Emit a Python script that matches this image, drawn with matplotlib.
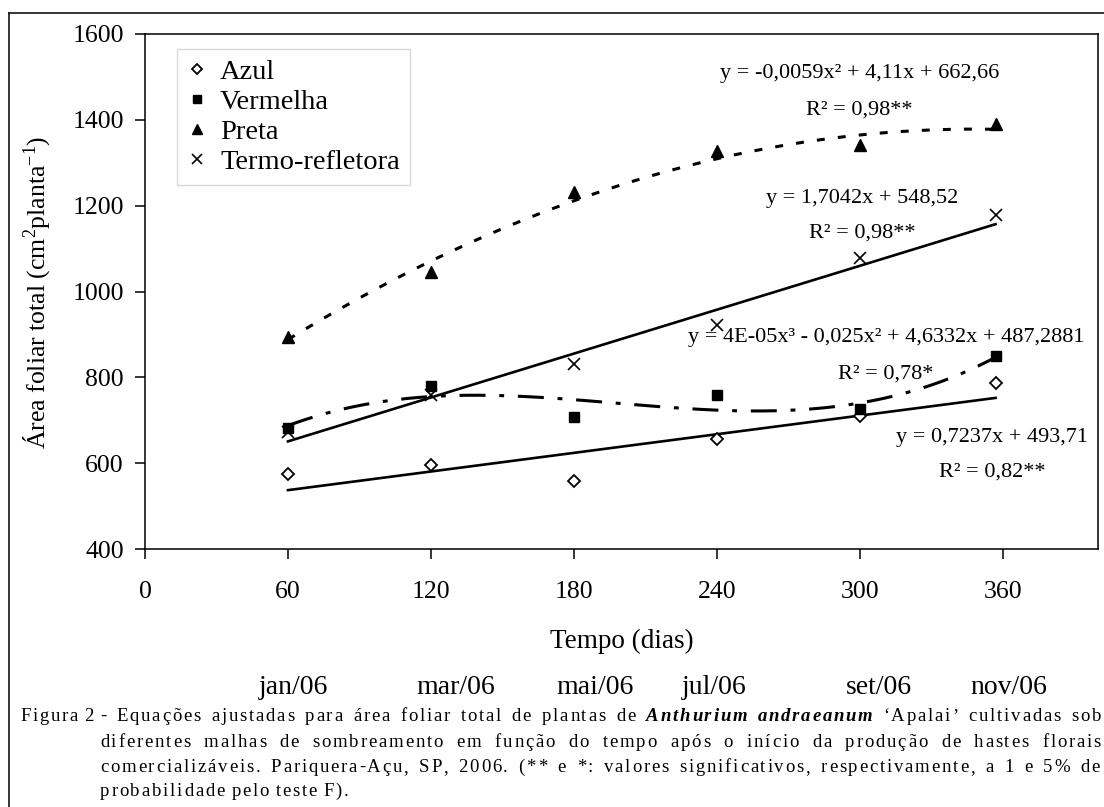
import numpy as np
import matplotlib
matplotlib.use('Agg')
import matplotlib.pyplot as plt
from matplotlib.lines import Line2D
from matplotlib.font_manager import FontProperties

plt.rcParams['font.family'] = ['Liberation Serif', 'DejaVu Serif']
plt.rcParams['mathtext.fontset'] = 'custom'
plt.rcParams['mathtext.rm'] = 'Liberation Serif'
plt.rcParams['mathtext.it'] = 'Liberation Serif:italic'

# dias apos o inicio da producao de hastes florais
dias = [60, 120, 180, 240, 300, 357]
azul = [574, 595, 558, 656, 709, 786]
vermelha = [682, 779, 707, 758, 726, 849]
preta = [893, 1045, 1233, 1328, 1342, 1390]
termo = [672, 760, 830, 922, 1079, 1179]

meses = ['jan/06', 'mar/06', 'mai/06', 'jul/06', 'set/06', 'nov/06']
yticks = [400, 600, 800, 1000, 1200, 1400, 1600]
xticks = [0, 60, 120, 180, 240, 300, 360]

# equacoes ajustadas (como impressas na figura)
azul_coef = [0.7237, 493.71]
termo_coef = [1.7042, 548.52]
preta_coef = [-0.0059, 4.11, 662.66]
vermelha_coef = np.polyfit(dias, vermelha, 3)

W, H = 1104, 807
fig = plt.figure(figsize=(W / 100, H / 100), dpi=100)
ax = fig.add_axes([145 / W, 1 - 549 / H, (1098 - 145) / W, (549 - 34) / H])

xs = np.linspace(dias[0], dias[-1], 300)
ax.plot(xs, np.polyval(preta_coef, xs), color='black', lw=2.2,
        linestyle=(0, (2.6, 4.3)), dash_capstyle='butt')
ax.plot(xs, np.polyval(termo_coef, xs), color='black', lw=1.9)
ax.plot(xs, np.polyval(vermelha_coef, xs), color='black', lw=2.2,
        linestyle=(0, (8.5, 4.5, 1.6, 4.5)), dash_capstyle='butt')
ax.plot(xs, np.polyval(azul_coef, xs), color='black', lw=1.9)

ax.plot(dias, azul, 'D', ms=6.5, mfc='white', mec='black', mew=1.3, ls='none', label='Azul')
ax.plot(dias, vermelha, 's', ms=7.5, color='black', ls='none', label='Vermelha')
ax.plot(dias, preta, '^', ms=9, color='black', ls='none', label='Preta')
ax.plot(dias, termo, 'x', ms=9, mew=1.2, color='black', ls='none', label='Termo-refletora')

ax.set_xlim(0, 400)
ax.set_ylim(400, 1600)
ax.set_xticks(xticks)
ax.set_yticks(yticks)
for s in ax.spines.values():
    s.set_linewidth(1.1)
ax.tick_params(labelsize=18.5, length=7.2, width=1.1, direction='out')
ax.tick_params(axis='y', pad=8)
ax.tick_params(axis='x', pad=16)

leg = ax.legend(loc='upper left', bbox_to_anchor=(0.034, 0.971), fontsize=20.5,
                frameon=True, fancybox=False, edgecolor='#d0d0d0',
                handlelength=0.7, handletextpad=0.45, labelspacing=0.15,
                borderpad=0.35, markerscale=0.85, borderaxespad=0)
leg.get_frame().set_linewidth(1.0)

eq_fs = 16
ax.text(300, 1509, 'y = -0,0059x² + 4,11x + 662,66', fontsize=eq_fs, ha='center', va='center')
ax.text(300, 1423, 'R² = 0,98**', fontsize=eq_fs, ha='center', va='center')
ax.text(301, 1216, 'y = 1,7042x + 548,52', fontsize=eq_fs, ha='center', va='center')
ax.text(301, 1137, 'R² = 0,98**', fontsize=eq_fs, ha='center', va='center')
ax.text(311, 893, 'y = 4E-05x³ - 0,025x² + 4,6332x + 487,2881', fontsize=eq_fs, ha='center', va='center')
ax.text(311, 807, 'R² = 0,78*', fontsize=eq_fs, ha='center', va='center')
ax.text(355.5, 660, 'y = 0,7237x + 493,71', fontsize=eq_fs, ha='center', va='center')
ax.text(355.5, 579, 'R² = 0,82**', fontsize=eq_fs, ha='center', va='center')

fig.text(37 / W, 1 - 292 / H, r'Área foliar total (cm$^{2}$planta$^{-1}$)', fontsize=18.5,
         rotation=90, ha='center', va='center')
fig.text(622 / W, 1 - 641 / H, 'Tempo (dias)', fontsize=19.5, ha='center', va='center')

mes_px = [293, 456, 595, 714, 879, 1009]
for m, px in zip(meses, mes_px):
    fig.text(px / W, 1 - 687 / H, m, fontsize=20, ha='center', va='center')

# moldura externa
fig.add_artist(Line2D([9 / W, 1.0], [1 - 13 / H, 1 - 13 / H], transform=fig.transFigure,
                      color='black', lw=1.1))
fig.add_artist(Line2D([9 / W, 9 / W], [1 - 13 / H, 0], transform=fig.transFigure,
                      color='black', lw=1.1))

# legenda da figura (texto justificado, com espacamento entre letras)
renderer = fig.canvas.get_renderer()
cap_fs = 13.5
track = 1.8


def fprops(bi):
    if bi:
        return FontProperties(family='Liberation Serif', size=cap_fs, weight='bold', style='italic')
    return FontProperties(family='Liberation Serif', size=cap_fs)


def word_width(w, bi):
    fp = fprops(bi)
    ws = [renderer.get_text_width_height_descent(c, fp, ismath=False)[0] for c in w]
    return sum(ws) + track * (len(w) - 1), ws


def draw_words(words, x0, base, x1=None):
    widths = [word_width(w, bi) for w, bi in words]
    total = sum(t for t, _ in widths)
    if x1 is None:
        gap = renderer.get_text_width_height_descent(' ', fprops(False), ismath=False)[0] + track
    else:
        gap = (x1 - x0 - total) / (len(words) - 1)
    x = x0
    for (w, bi), (tw, cws) in zip(words, widths):
        cx = x
        for c, cw in zip(w, cws):
            fig.text(cx / W, 1 - base / H, c, fontproperties=fprops(bi), ha='left', va='baseline')
            cx += cw + track
        x += tw + gap
    return x


def split(segs):
    out = []
    for txt, bi in segs:
        out += [(w, bi) for w in txt.split(' ') if w]
    return out


end = draw_words(split([('Figura 2 -', False)]), 20, 721)
draw_words(split([('Equações ajustadas para área foliar total de plantas de', False),
                  ('Anthurium andraeanum', True),
                  ('‘Apalai’ cultivadas sob', False)]), max(end + 3, 102), 721, 1101)
draw_words(split([('diferentes malhas de sombreamento em função do tempo após o início da '
                   'produção de hastes florais', False)]), 100, 747, 1101)
draw_words(split([('comercializáveis. Pariquera-Açu, SP, 2006. (** e *: valores significativos, '
                   'respectivamente, a 1 e 5% de', False)]), 100, 772, 1100)
draw_words(split([('probabilidade pelo teste F).', False)]), 100, 796)

fig.savefig('out.png', dpi=100)
